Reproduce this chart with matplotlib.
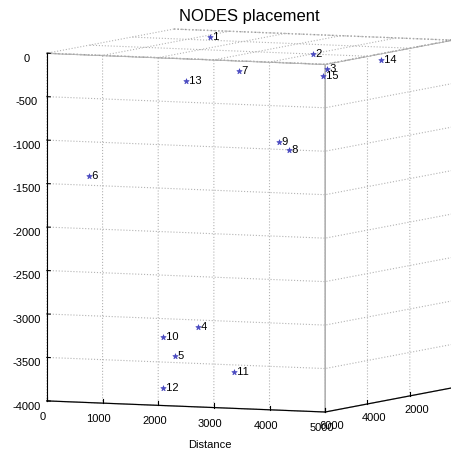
import numpy as np
import matplotlib
matplotlib.use("Agg")
import matplotlib.pyplot as plt
from mpl_toolkits.mplot3d import proj3d

plt.rcParams['font.family'] = ['Liberation Sans', 'DejaVu Sans']

# Node data
node_ids = [1, 2, 3, 4, 5, 6, 7, 8, 9, 10, 11, 12, 13, 14, 15]
node_x = [1170, 3640, 4350, 1580, 1620, 300, 2310, 3210, 2800, 1180, 2450, 1400, 1820, 4410, 4510]
node_y = [1360, 3000, 4200, 3000, 4200, 4800, 3000, 3000, 2400, 3600, 3600, 4200, 4200, 1800, 4800]
node_z = [0, -60, -150, -3250, -3520, -1460, -280, -1170, -1120, -3350, -3720, -3900, -360, -160, -200]

x_ticks = [0, 1000, 2000, 3000, 4000, 5000]
y_ticks = [0, 2000, 4000, 6000]
z_ticks = [-4000, -3500, -3000, -2500, -2000, -1500, -1000, -500, 0]

W, H = 452, 454
fig = plt.figure(figsize=(W / 100, H / 100), dpi=100)
ax = fig.add_axes([0, 0, 1, 1], projection='3d', proj_type='ortho')
ax.view_init(elev=-5, azim=-114.6)
ax.set_box_aspect((306, 305, 349))

ax.set_xlim(0, 5000)
ax.set_ylim(0, 6000)
ax.set_zlim(-4000, 0)
ax.set_xticks(x_ticks)
ax.set_yticks(y_ticks)
ax.set_zticks(z_ticks)
ax.set_xticklabels([str(t) for t in x_ticks], fontsize=8)
ax.set_yticklabels([str(t) for t in y_ticks], fontsize=8)
ax.set_zticklabels([str(t) for t in z_ticks], fontsize=8)
ax.tick_params(axis='x', pad=-2)
ax.tick_params(axis='y', pad=-3)
ax.tick_params(axis='z', pad=2)

for axis in (ax.xaxis, ax.yaxis, ax.zaxis):
    axis.set_pane_color((1, 1, 1, 1))
    axis.pane.set_edgecolor((0.68, 0.68, 0.68))
    axis._axinfo['grid'].update(color=(0.7, 0.7, 0.7), linestyle=':', linewidth=0.8)
    axis._axinfo['axisline']['color'] = (0.3, 0.3, 0.3)
    axis._axinfo['tick']['inward_factor'] = 0.0
    axis._axinfo['tick']['outward_factor'] = 0.15
    axis.line.set_linewidth(0.8)
ax.zaxis.pane.set_linestyle(':')
ax.zaxis.pane.set_edgecolor((0.6, 0.6, 0.6))

try:
    ax.xaxis.set_ticks_position('lower')
    ax.xaxis.set_label_position('lower')
    ax.yaxis.set_ticks_position('lower')
    ax.yaxis.set_label_position('lower')
except Exception:
    pass

ax.scatter(node_x, node_y, node_z, marker='*', s=16, color='#4848c0',
           depthshade=False, linewidths=0.5)
for i, xv, yv, zv in zip(node_ids, node_x, node_y, node_z):
    ax.text(xv, yv, zv, ' ' + str(i), fontsize=8, va='center', ha='left')

# Fit the axes position so the box corners land where the reference shows them
corners = [(0, 6000, -4000), (5000, 6000, -4000), (5000, 0, -4000), (0, 6000, 0), (0, 0, 0)]
targets = [(47, 401), (325, 412), (452, 388), (47, 53), (174, 29)]
fig.canvas.draw()
bb = ax.get_position()
M = ax.get_proj()
ox0, oy0 = bb.x0 * W, bb.y0 * H
L0 = bb.width * W
uv = []
for c in corners:
    xs, ys, _ = proj3d.proj_transform(c[0], c[1], c[2], M)
    dx, dy = ax.transData.transform((xs, ys))
    uv.append(((dx - ox0) / L0, (dy - oy0) / L0))
A = []
bvec = []
for (u, v), (tx, ty) in zip(uv, targets):
    A.append([u, 1, 0]); bvec.append(tx)
    A.append([v, 0, 1]); bvec.append(H - ty)
sol, *_ = np.linalg.lstsq(np.array(A), np.array(bvec), rcond=None)
L, ox, oy = sol
ax.set_position([ox / W, oy / H, L / W, L / H])

fig.text(249 / W, 1 - 16 / H, 'NODES placement', fontsize=12, ha='center', va='center')
fig.text(210 / W, 1 - 445 / H, 'Distance', fontsize=8, ha='center', va='center')

fig.savefig('out.png', dpi=100)
